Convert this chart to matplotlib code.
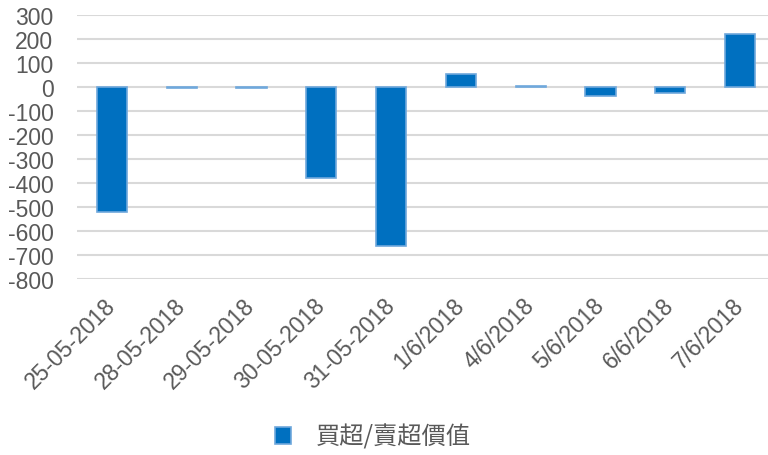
import matplotlib.pyplot as plt
import numpy as np

plt.rcParams['font.family'] = ['Liberation Sans', 'Noto Sans CJK TC', 'DejaVu Sans']
plt.rcParams['axes.unicode_minus'] = False

# data to plot
dates = ["25-05-2018", "28-05-2018", "29-05-2018", "30-05-2018", "31-05-2018",
         "1/6/2018", "4/6/2018", "5/6/2018", "6/6/2018", "7/6/2018"]
net_value = [-521, -5, -4, -378, -662, 53, 5, -38, -26, 220]
series_name = "買超/賣超價值"

grey = '#595959'

fig = plt.figure(figsize=(7.68, 4.56), dpi=100)
ax = fig.add_axes([77 / 768, 1 - 280 / 456, 698 / 768, 264 / 456])

index = np.arange(len(dates))
ax.bar(index, net_value, 0.43, color='#0070c0', edgecolor='#6fa8dc',
       linewidth=1.2, label=series_name, zorder=3)

ax.set_xlim(-0.5, len(dates) - 0.5)
ax.set_ylim(-800, 300)
ax.set_yticks(np.arange(-800, 301, 100))
ax.yaxis.grid(True, color='#d9d9d9', linewidth=1.5, zorder=0)
ax.tick_params(axis='both', length=0, labelsize=16.5, colors=grey)
ax.tick_params(axis='y', pad=17)
ax.tick_params(axis='x', pad=16)
for s in ax.spines.values():
    s.set_visible(False)

ax.set_xticks(index)
ax.set_xticklabels(dates, rotation=45, ha='right', va='center', rotation_mode='anchor')

leg = fig.legend(loc='center', bbox_to_anchor=(373 / 768, 1 - 438 / 456),
                 frameon=False, handlelength=0.65, handleheight=0.65,
                 handletextpad=1.0, prop={'family': ['Noto Sans CJK TC'], 'size': 17.5})
for t in leg.get_texts():
    t.set_color(grey)

plt.savefig('out.png', dpi=100)
